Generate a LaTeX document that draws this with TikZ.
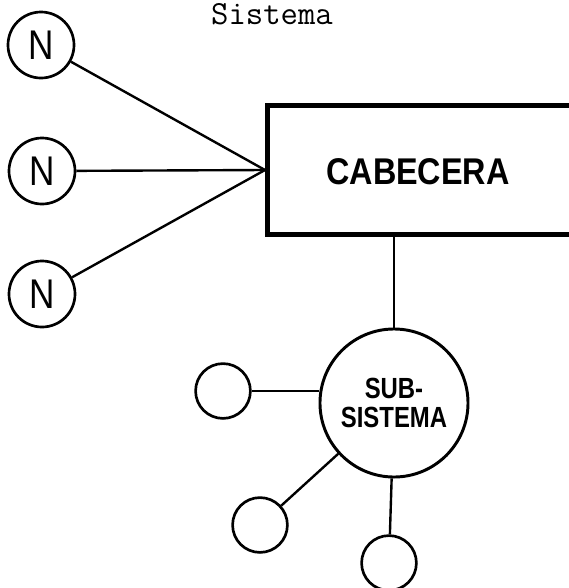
\documentclass[tikz,border=0pt]{standalone}
\usepackage{fontspec}
\usepackage{graphicx}
\setsansfont{Liberation Sans}
\usetikzlibrary{positioning,calc}
\newcommand{\alto}[2][1.18]{\scalebox{1}[#1]{#2}}

\begin{document}
\begin{tikzpicture}[x=0.025cm,y=-0.025cm,
    nodo/.style={circle,draw,line width=1.9pt,minimum size=1.65cm,inner sep=0pt,font=\sffamily\fontsize{25}{25}\selectfont},
    hoja/.style={circle,draw,line width=1.9pt,minimum size=1.37cm,inner sep=0pt},
    subsis/.style={circle,draw,line width=2.1pt,minimum size=3.7cm,inner sep=0pt,align=center,font=\sffamily\bfseries\fontsize{17}{21}\selectfont},
    cabecera/.style={rectangle,draw,line width=3.8pt,minimum width=9cm,minimum height=3.22cm,anchor=west},
    enlace/.style={line width=1.7pt}
  ]
    \clip (0,0) rectangle (569,588);
    \node[font=\ttfamily\fontsize{24}{24}\selectfont] (titulo) at (272,14) {Sistema};
    % nodos de la izquierda
    \node[nodo] (n1) at (41,45) {\alto{N}};
    \node[nodo] (n2) at (42,171) {\alto{N}};
    \node[nodo] (n3) at (42,294) {\alto{N}};
    \node[cabecera] (cab) at (265,170) {};
    \node[font=\sffamily\bfseries\fontsize{23}{23}\selectfont] (cabtxt) at (418,172) {\alto[1.15]{CABECERA}};
    \draw[enlace] (n1) -- (cab.west);
    \draw[enlace] (n2) -- (cab.west);
    \draw[enlace] (n3) -- (cab.west);
    % subsistema
    \node[subsis] (sub) at (394,403) {\alto[1.22]{SUB-}\\\alto[1.22]{SISTEMA}};
    \draw[enlace] (sub) -- (sub |- cab.south);
    \node[hoja] (s1) at (223,391) {};
    \node[hoja] (s2) at (260,525) {};
    \node[hoja] (s3) at (389,563) {};
    \draw[enlace] (s1) -- (s1 -| sub.west);
    \draw[enlace] (s2) -- (sub);
    \draw[enlace] (s3) -- (sub);
  \end{tikzpicture}
\end{document}
